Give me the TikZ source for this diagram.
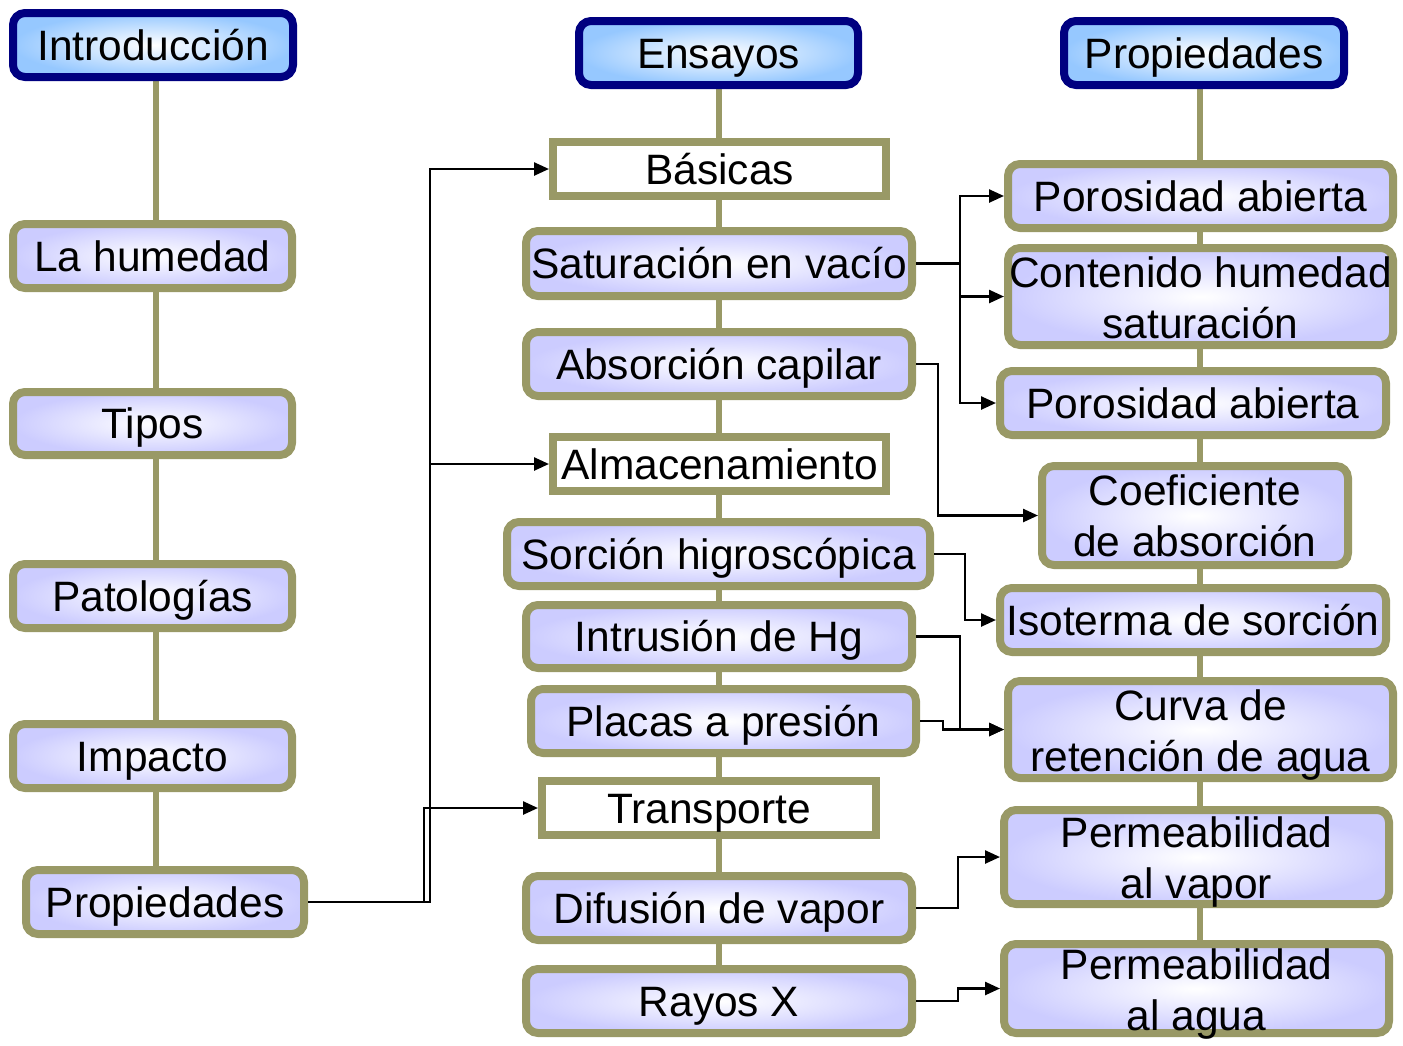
\documentclass[tikz,border=0pt]{standalone}
\usepackage{fontspec}
\setmainfont{Liberation Sans}
\usetikzlibrary{arrows.meta,backgrounds}
\definecolor{olive}{RGB}{153,153,102}
\definecolor{lav}{RGB}{204,204,255}
\definecolor{navyb}{RGB}{0,0,128}
\definecolor{hdrblue}{RGB}{150,200,255}
\tikzset{
  base/.style={font=\fontsize{42.5}{51}\selectfont, align=center, inner sep=0pt, outer sep=4pt, line width=8pt, text height=40pt, text depth=10pt},
  bx/.style={base, draw=olive, rounded corners=12pt, shading=radial, inner color=white, outer color=lav},
  hdr/.style={base, draw=navyb, rounded corners=12pt, shading=radial, inner color=white, outer color=hdrblue},
  plain/.style={base, draw=olive, fill=white},
  trunk/.style={draw=olive, line width=6pt},
  arr/.style={draw=black, line width=2.5pt, -{Triangle[length=15pt,width=13pt]}}
}
\begin{document}
\begin{tikzpicture}[x=1pt,y=-1pt]
\useasboundingbox (0,0) rectangle (1403,1045);
% column 1
\node[hdr, minimum width=280pt, minimum height=64pt] (intro) at (153,45) {Introducción};
\node[bx, minimum width=279pt, minimum height=64pt] (hum) at (152.5,256) {La humedad};
\node[bx, minimum width=279pt, minimum height=63pt] (tipos) at (152.5,423.5) {Tipos};
\node[bx, minimum width=279pt, minimum height=64pt] (pat) at (152.5,596) {Patologías};
\node[bx, minimum width=279pt, minimum height=64pt] (imp) at (152.5,756) {Impacto};
\node[bx, minimum width=278pt, minimum height=64pt] (prop) at (165,902) {Propiedades};
% column 2
\node[hdr, minimum width=279pt, minimum height=64pt] (ens) at (718.5,53) {Ensayos};
\node[plain, minimum width=333pt, minimum height=54pt] (bas) at (719.5,169) {Básicas};
\node[bx, minimum width=386pt, minimum height=65pt] (sat) at (719,263.5) {Saturación en vacío};
\node[bx, minimum width=386pt, minimum height=64pt] (abs) at (719,364) {Absorción capilar};
\node[plain, minimum width=333pt, minimum height=54pt] (alm) at (719.5,464) {Almacenamiento};
\node[bx, minimum width=423pt, minimum height=64pt] (sor) at (718.5,554) {Sorción higroscópica};
\node[bx, minimum width=386pt, minimum height=63pt] (intr) at (719,636.5) {Intrusión de Hg};
\node[bx, minimum width=385pt, minimum height=64pt] (plac) at (723.5,721) {Placas a presión};
\node[plain, minimum width=334pt, minimum height=54pt] (trans) at (709,808) {Transporte};
\node[bx, minimum width=386pt, minimum height=64pt] (dif) at (719,908) {Difusión de vapor};
\node[bx, minimum width=386pt, minimum height=64pt] (ray) at (719,1001) {Rayos X};
% column 3
\node[hdr, minimum width=280pt, minimum height=64pt] (hdr3) at (1204,53) {Propiedades};
\node[bx, minimum width=385pt, minimum height=64pt] (pa1) at (1200.5,196) {Porosidad abierta};
\node[bx, text height=90pt, text depth=7pt, minimum width=385pt, minimum height=97pt] (cont) at (1200.5,296.5) {Contenido humedad\\saturación};
\node[bx, minimum width=386pt, minimum height=64pt] (pa2) at (1193,403) {Porosidad abierta};
\node[bx, text height=90.5pt, text depth=8.5pt, minimum width=306pt, minimum height=99pt] (coef) at (1195,515.5) {Coeficiente\\de absorción};
\node[bx, minimum width=386pt, minimum height=64pt] (iso) at (1193,620) {Isoterma de sorción};
\node[bx, text height=90pt, text depth=7pt, minimum width=385pt, minimum height=97pt] (curva) at (1200.5,729.5) {Curva de\\retención de agua};
\node[bx, text height=88pt, text depth=6pt, minimum width=385pt, minimum height=94pt] (pv) at (1196.5,857) {Permeabilidad\\al vapor};
\node[bx, text height=86pt, text depth=3pt, minimum width=385pt, minimum height=89pt] (pag) at (1196.5,988.5) {Permeabilidad\\al agua};
% trunks
\coordinate (t1) at (156,0);
\coordinate (t3) at (1200,0);
\begin{pgfonlayer}{background}
\draw[trunk] (intro.south -| t1) -- (prop.north -| t1);
\draw[trunk] (ens.south) -- (ens.south |- ray.north);
\draw[trunk] (hdr3.south -| t3) -- (pag.north -| t3);
\end{pgfonlayer}
% junction x positions
\coordinate (j1) at (430,0);
\coordinate (j1b) at (424,0);
\coordinate (j2) at (960,0);
\coordinate (j3) at (938,0);
\coordinate (j4) at (965,0);
\coordinate (j5) at (960,0);
\coordinate (j6) at (943,0);
\coordinate (j7) at (958,0);
% connectors
\draw[arr] (prop.east) -- (prop.east -| j1) |- (bas.west);
\draw[arr] (prop.east) -- (prop.east -| j1) |- (alm.west);
\draw[arr] (prop.east) -- (prop.east -| j1b) |- (trans.west);
\draw[arr] (sat.east) -- (sat.east -| j2) |- (pa1.west);
\draw[arr] (sat.east) -- (sat.east -| j2) |- (cont.west);
\draw[arr] (sat.east) -- (sat.east -| j2) |- (pa2.west);
\draw[arr] (abs.east) -- (abs.east -| j3) |- (coef.west);
\draw[arr] (sor.east) -- (sor.east -| j4) |- (iso.west);
\draw[arr] (intr.east) -- (intr.east -| j5) |- (curva.west);
\draw[arr] (plac.east) -- (plac.east -| j6) |- (curva.west);
\draw[arr] (dif.east) -- (dif.east -| j7) |- (pv.west);
\draw[arr] (ray.east) -- (ray.east -| j7) |- (pag.west);
\end{tikzpicture}
\end{document}
